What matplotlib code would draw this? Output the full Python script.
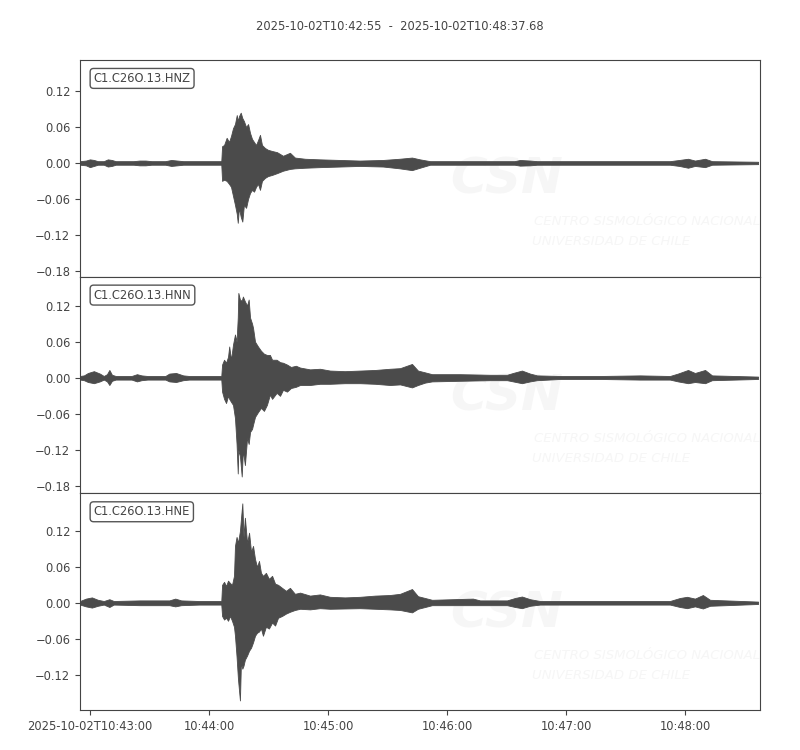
import numpy as np
import matplotlib
matplotlib.use('Agg')
import matplotlib.pyplot as plt

# seconds after 2025-10-02T10:42:55
duration = 342.68
title = "2025-10-02T10:42:55  -  2025-10-02T10:48:37.68"
channels = ["C1.C26O.13.HNZ", "C1.C26O.13.HNN", "C1.C26O.13.HNE"]

xtick_pos = [5, 65, 125, 185, 245, 305]
xtick_labels = ["2025-10-02T10:43:00", "10:44:00", "10:45:00", "10:46:00", "10:47:00", "10:48:00"]
ytick_vals = [-0.18, -0.12, -0.06, 0.0, 0.06, 0.12]
ylims = [(-0.19, 0.172), (-0.192, 0.168), (-0.1790, 0.1827)]

# envelope of each trace (time, max, min)
t_z = [0, 3, 5, 7, 9, 12, 14, 16, 18, 27, 30, 33, 36, 43, 46, 49, 52, 71.2,
       71.6, 72.6, 73.9, 75.1, 76.1, 77.1, 78.1, 79.0, 79.5, 80.1, 81.0, 81.8,
       82.6, 83.7, 84.7, 85.7, 86.7, 87.7, 88.7, 89.7, 90.7, 91.7, 93.2, 94.7,
       96.8, 99.3, 102.3, 105.8, 108.3, 113.4, 121, 131, 141, 152.7, 161, 167.3,
       171.3, 176.4, 219, 221.7, 226.8, 230.3, 297.3, 302, 306.4, 309.9, 315,
       318.5, 341.7]
up_z = [.003, .004, .006, .005, .003, .003, .006, .005, .003, .003, .004, .004, .003, .003, .005, .004, .003, .003,
        .028, .030, .042, .035, .045, .058, .065, .080, .070, .078, .084, .075,
        .070, .060, .065, .050, .040, .035, .030, .038, .047, .030, .025, .022,
        .020, .018, .012, .017, .009, .007, .006, .005, .004, .005, .007, .009,
        .006, .003, .003, .005, .004, .003, .003, .005, .007, .004, .007,
        .003, .002]
lo_z = [-.003, -.004, -.007, -.005, -.003, -.003, -.006, -.005, -.003, -.003, -.004, -.004, -.003, -.003, -.005, -.004, -.003, -.003,
        -.030, -.028, -.030, -.035, -.040, -.055, -.070, -.085, -.100, -.075, -.090, -.098,
        -.070, -.075, -.060, -.050, -.045, -.048, -.040, -.035, -.045, -.030, -.025, -.022,
        -.020, -.017, -.013, -.010, -.009, -.008, -.007, -.006, -.005, -.006, -.009, -.012,
        -.008, -.003, -.003, -.0045, -.004, -.003, -.003, -.005, -.008, -.005, -.007,
        -.003, -.002]

t_n = [0, 2, 4, 7, 10, 12, 13.6, 14.8, 16.1, 18, 26, 28.7, 31, 34, 43, 45, 48.4, 52, 55, 71.2,
       71.6, 72.6, 73.6, 74.6, 75.2, 76.1, 77.1, 78.1, 78.9, 79.5, 79.8, 80.6, 81.5,
       82.1, 83.1, 84.2, 85.0, 85.7, 86.7, 87.2, 88.2, 89.7, 91.2, 92.7, 94.2, 95.7,
       96.8, 99.1, 100.8, 102.3, 104.3, 106.3, 108.8, 110.9, 115.9, 120.9, 126, 133.5,
       141.1, 148.7, 156.2, 161.3, 167.3, 170.3, 173.9, 177.4, 191.5, 206.6, 215.2,
       218.2, 222.7, 226.8, 230.3, 241.9, 262, 282.2, 297.3, 301.3, 306.4, 309.9, 315,
       318.5, 341.7]
up_n = [.003, .004, .008, .011, .007, .003, .006, .013, .005, .003, .003, .006, .004, .003, .003, .007, .008, .004, .003, .003,
        .022, .030, .025, .035, .052, .030, .055, .072, .060, .100, .141, .130, .128,
        .135, .127, .120, .130, .100, .090, .083, .060, .052, .045, .040, .038, .038,
        .030, .030, .026, .025, .022, .018, .020, .017, .014, .015, .012, .011,
        .012, .013, .015, .016, .023, .012, .009, .006, .006, .005, .005,
        .008, .012, .007, .004, .003, .003, .004, .003, .007, .013, .008, .013,
        .004, .002]
lo_n = [-.003, -.004, -.007, -.009, -.006, -.003, -.006, -.012, -.005, -.003, -.003, -.006, -.004, -.003, -.003, -.006, -.007, -.004, -.003, -.003,
        -.023, -.035, -.042, -.030, -.035, -.040, -.045, -.067, -.110, -.159, -.120, -.130, -.164,
        -.120, -.145, -.100, -.110, -.090, -.085, -.078, -.065, -.057, -.050, -.055, -.045, -.028,
        -.035, -.025, -.030, -.020, -.023, -.017, -.015, -.012, -.012, -.010, -.010, -.009,
        -.009, -.010, -.012, -.011, -.016, -.012, -.008, -.006, -.005, -.004, -.004,
        -.006, -.009, -.006, -.004, -.002, -.002, -.003, -.003, -.006, -.009, -.007, -.009,
        -.004, -.002]

t_e = [0, 3, 6, 9, 12, 14.8, 17, 30, 45, 48, 51, 60, 71.2,
       71.6, 72.6, 73.6, 74.6, 75.6, 76.6, 77.6, 78.1, 78.9, 79.6, 80.6, 81.1, 81.8,
       82.4, 83.1, 84.2, 85.2, 86.2, 87.2, 88.2, 89.2, 90.2, 91.2, 92.2, 93.7, 95.2,
       96.8, 98.3, 99.8, 101.8, 103.8, 105.8, 108.3, 110.9, 115.9, 120.9, 126, 133.5,
       141.1, 148.7, 156.2, 161.3, 167.3, 170.3, 173.9, 177.4, 198, 201.6, 215.2,
       219.2, 222.7, 226.8, 231.8, 262, 297.3, 302.3, 305.9, 309.9, 313.9, 317.5, 341.7]
up_e = [.003, .007, .009, .005, .003, .006, .003, .004, .004, .007, .004, .003, .003,
        .030, .035, .028, .037, .033, .030, .045, .095, .110, .100, .120, .140, .166,
        .110, .142, .100, .117, .085, .095, .073, .060, .070, .050, .045, .050, .040,
        .045, .032, .030, .025, .020, .025, .015, .017, .012, .014, .010, .009,
        .010, .012, .013, .015, .023, .011, .008, .005, .007, .004, .004,
        .008, .0105, .006, .003, .003, .003, .008, .010, .007, .013, .005, .002]
lo_e = [-.003, -.006, -.008, -.005, -.003, -.007, -.003, -.004, -.004, -.006, -.004, -.003, -.003,
        -.022, -.028, -.025, -.030, -.022, -.030, -.040, -.055, -.090, -.127, -.163, -.100, -.110,
        -.105, -.095, -.088, -.080, -.075, -.066, -.055, -.050, -.048, -.043, -.055, -.040, -.043,
        -.033, -.038, -.025, -.022, -.018, -.015, -.012, -.010, -.011, -.009, -.010, -.0095,
        -.009, -.010, -.011, -.012, -.016, -.010, -.007, -.004, -.004, -.004, -.004,
        -.007, -.009, -.005, -.003, -.003, -.003, -.007, -.009, -.006, -.0095, -.005, -.002]

traces = [(t_z, up_z, lo_z), (t_n, up_n, lo_n), (t_e, up_e, lo_e)]

text_col = '#444444'
wave_col = '#4b4b4b'
mark_col = '#f6f6f6'
plt.rcParams['font.size'] = 8.3
plt.rcParams['text.color'] = text_col
plt.rcParams['xtick.color'] = text_col
plt.rcParams['ytick.color'] = text_col
plt.rcParams['axes.edgecolor'] = text_col

fig, axes = plt.subplots(3, 1, figsize=(8, 7.5), dpi=100, sharex=True)
fig.subplots_adjust(left=0.1, right=0.95, top=0.92, bottom=0.0533, hspace=0)
fig.suptitle(title, y=0.973, fontsize=8.3, color=text_col)

for i, ax in enumerate(axes):
    t, up, lo = traces[i]
    # faint CSN watermark
    ax.text(0.628, 0.447, "CSN", transform=ax.transAxes, ha='center', va='center',
            fontsize=36, fontweight='bold', fontstyle='italic', color=mark_col,
            zorder=0, clip_on=True)
    ax.text(0.667, 0.253, "CENTRO SISMOLÓGICO NACIONAL", transform=ax.transAxes,
            ha='left', va='center', fontsize=9.5, fontstyle='italic', color=mark_col,
            zorder=0, clip_on=True)
    ax.text(0.664, 0.161, "UNIVERSIDAD DE CHILE", transform=ax.transAxes,
            ha='left', va='center', fontsize=9.5, fontstyle='italic', color=mark_col,
            zorder=0, clip_on=True)

    ax.fill_between(t, lo, up, color=wave_col, lw=0.6, edgecolor=wave_col, zorder=2)
    ax.set_yticks(ytick_vals)
    ax.set_yticklabels([f"{v:.2f}".replace('-', '\u2212') for v in ytick_vals])
    ax.set_xlim(0, duration)
    ax.set_ylim(*ylims[i])
    ax.text(0.02, 0.945, channels[i], transform=ax.transAxes, ha='left', va='top',
            fontsize=8.3, color=text_col,
            bbox=dict(boxstyle='round,pad=0.3', fc='white', ec='#555555', lw=1))
    if i < 2:
        ax.tick_params(axis='x', bottom=False, labelbottom=False)

axes[-1].set_xticks(xtick_pos)
axes[-1].set_xticklabels(xtick_labels)
axes[-1].set_xlim(0, duration)

fig.savefig('out.png', dpi=100)
